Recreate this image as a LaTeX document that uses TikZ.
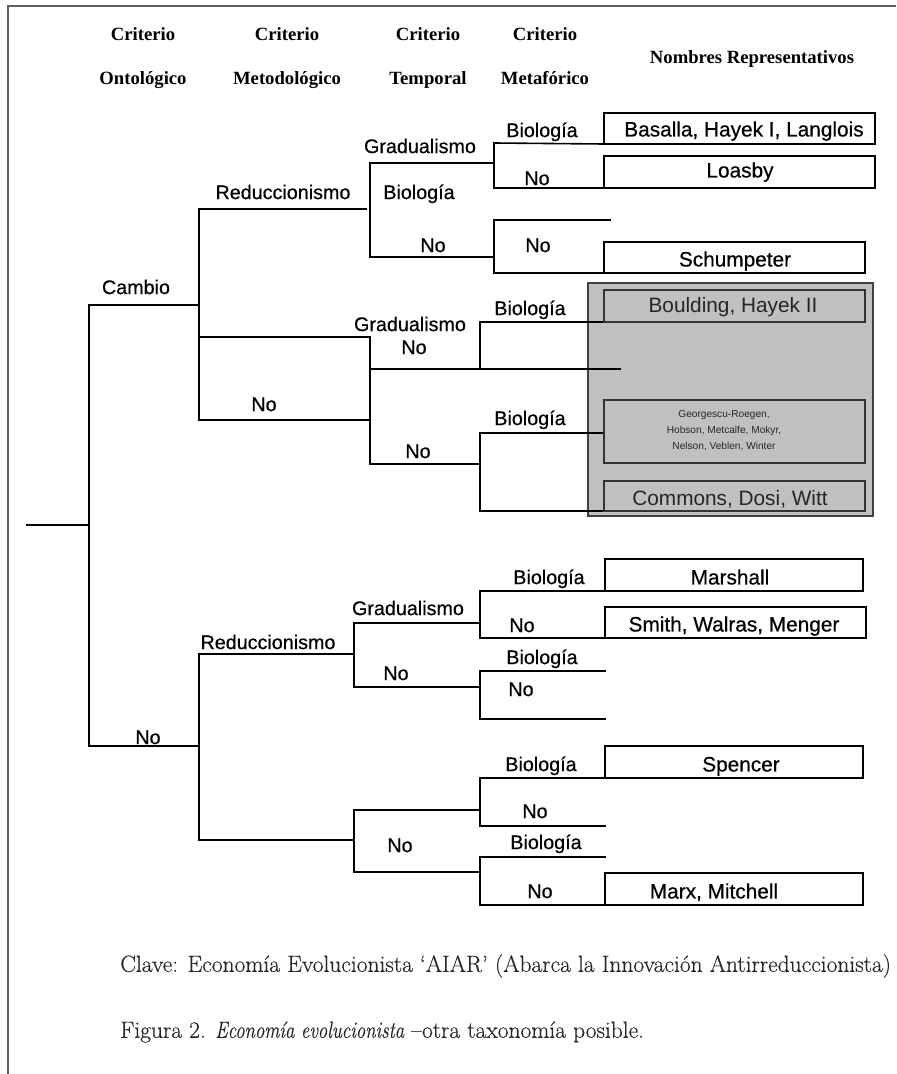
\documentclass[tikz,border=0pt]{standalone}
\usepackage{fontspec}
\newfontfamily\lsans[FakeBold=0.5]{Liberation Sans}
\newfontfamily\lsanslight{Liberation Sans}
\newfontfamily\lserif{Liberation Serif}
\newfontfamily\footfont[FakeBold=0.3]{Latin Modern Roman}
\definecolor{graybg}{HTML}{C0C0C0}
\definecolor{framegray}{HTML}{606060}
\tikzset{
  tree/.style={line width=1.2pt, black, line cap=rect},
  lab/.style={font=\lsans\fontsize{14.8}{16}\selectfont, inner sep=0pt, text height=10.6pt, text depth=0pt},
  nametext/.style={font=\lsans\fontsize{15.6}{18}\selectfont, inner sep=0pt, text height=11.2pt, text depth=0pt},
  smalltext/.style={font=\lsanslight\fontsize{7.6}{12}\selectfont, inner sep=0pt, align=center, text=black!85},
  graytext/.style={font=\lsanslight\fontsize{15.6}{18}\selectfont, inner sep=0pt, text height=11.2pt, text depth=0pt, text=black!85},
  head/.style={font=\lserif\bfseries\fontsize{14}{16}\selectfont, inner sep=0pt, text height=9.3pt, text depth=0pt},
  foot/.style={font=\footfont\fontsize{17.6}{20}\selectfont, inner sep=0pt, text=black!85, anchor=west},
  namebox/.style={draw=black, line width=1.3pt, fill=white, inner sep=0pt, outer sep=0pt},
  outergray/.style={draw=black!75, line width=0.9pt, fill=graybg, inner sep=0pt, outer sep=0pt},
  innergray/.style={draw=black!80, line width=0.9pt, fill=graybg, inner sep=0pt, outer sep=0pt},
  framestyle/.style={draw=framegray, line width=1.1pt}
}
\newcommand\mkbox[6]{%
  \pgfmathsetmacro\mkbw{(#5-#3)*0.75}%
  \pgfmathsetmacro\mkbh{(#6-#4)*0.75}%
  \node[#1, minimum width=\mkbw pt, minimum height=\mkbh pt] (#2) at ({(#3+#5)/2},{(#4+#6)/2}) {};}
\begin{document}
\begin{tikzpicture}[x=0.75pt, y=-0.75pt]
\useasboundingbox (0,0) rectangle (896,1074);
% frame
\coordinate (fr0) at (8,1074);
\coordinate (fr1) at (8,6);
\coordinate (fr2) at (896,6);
\draw[framestyle] (fr0) -- (fr1) -- (fr2);

% header
\node[head] (h1a) at (143,34) {Criterio};
\node[head] (h1b) at (143,78) {Ontológico};
\node[head] (h2a) at (287,34) {Criterio};
\node[head] (h2b) at (287,78) {Metodológico};
\node[head] (h3a) at (428,34) {Criterio};
\node[head] (h3b) at (428,78) {Temporal};
\node[head] (h4a) at (545,34) {Criterio};
\node[head] (h4b) at (545,78) {Metafórico};
\node[head] (h5) at (752,57) {Nombres Representativos};

% gray box (drawn first)
\mkbox{outergray}{grayzone}{588}{283}{873}{516}

% coordinates
\coordinate (r0) at (27,525);
\coordinate (r1) at (89,525);
\coordinate (c0) at (89,305);
\coordinate (c1) at (199,305);
\coordinate (n0) at (89,746);
\coordinate (n1) at (199,746);
% upper
\coordinate (m1t) at (199,209);
\coordinate (m1b) at (199,420);
\coordinate (red1e) at (366,209);
\coordinate (t1t) at (370,163);
\coordinate (t1b) at (370,257);
\coordinate (t1g) at (494,163);
\coordinate (f1t) at (494,143);
\coordinate (f1b) at (494,188);
\coordinate (t1n) at (494,257);
\coordinate (f2t) at (494,220);
\coordinate (f2b) at (494,273);
\coordinate (f2te) at (610,220);
\coordinate (f2be) at (620,273);
% middle
\coordinate (m2a) at (199,337);
\coordinate (t2a) at (370,337);
\coordinate (t2m) at (370,420);
\coordinate (t2b) at (370,464);
\coordinate (t2g) at (370,369);
\coordinate (t2ge) at (620,369);
\coordinate (f3t) at (480,322);
\coordinate (f3b) at (480,369);
\coordinate (f4j) at (480,464);
\coordinate (f4t) at (480,433);
\coordinate (f4b) at (480,511);
% lower
\coordinate (m3t) at (199,654);
\coordinate (m3b) at (199,840);
\coordinate (t3t) at (354,623);
\coordinate (t3m) at (354,654);
\coordinate (t3b) at (354,687);
\coordinate (g3) at (480,623);
\coordinate (f5t) at (480,591);
\coordinate (f5b) at (480,638);
\coordinate (n3) at (480,687);
\coordinate (f6t) at (480,671);
\coordinate (f6b) at (480,719);
\coordinate (f6te) at (605,671);
\coordinate (f6be) at (605,719);
\coordinate (t4m) at (354,840);
\coordinate (t4t) at (354,810);
\coordinate (t4b) at (354,872);
\coordinate (f7j) at (480,810);
\coordinate (f7t) at (480,778);
\coordinate (f7b) at (480,826);
\coordinate (f7be) at (605,826);
\coordinate (f8j) at (480,872);
\coordinate (f8t) at (480,857);
\coordinate (f8b) at (480,905);
\coordinate (f8te) at (605,857);

% boxes (positions)
\mkbox{namebox}{basalla}{604}{113}{875}{144}
\mkbox{namebox}{loasby}{604}{156}{875}{188}
\mkbox{namebox}{schumpeter}{604}{242}{865}{273}
\mkbox{innergray}{boulding}{604}{290}{865}{322}
\mkbox{innergray}{georgescu}{604}{400}{865}{463}
\mkbox{innergray}{commons}{604}{481}{865}{511}
\mkbox{namebox}{marshall}{605}{559}{863}{591}
\mkbox{namebox}{smith}{605}{607}{866}{638}
\mkbox{namebox}{spencer}{605}{746}{863}{778}
\mkbox{namebox}{marx}{605}{873}{863}{905}

% tree lines
\draw[tree] (r0) -- (r1);
\draw[tree] (c0) -- (n0);
\draw[tree] (c0) -- (c1);
\draw[tree] (n0) -- (n1);
\draw[tree] (m1t) -- (m1b);
\draw[tree] (m1t) -- (red1e);
\draw[tree] (t1t) -- (t1b);
\draw[tree] (t1t) -- (t1g);
\draw[tree] (f1t) -- (f1b);
\draw[tree] (f1t) -- (basalla.south west);
\draw[tree] (f1b) -- (loasby.south west);
\draw[tree] (t1b) -- (t1n);
\draw[tree] (f2t) -- (f2b);
\draw[tree] (f2t) -- (f2te);
\draw[tree] (f2b) -- (f2be);
\draw[tree] (m2a) -- (t2a);
\draw[tree] (m1b) -- (t2m);
\draw[tree] (t2a) -- (t2b);
\draw[tree] (t2g) -- (t2ge);
\draw[tree] (f3t) -- (f3b);
\draw[tree] (f3t) -- (boulding.south west);
\draw[tree] (t2b) -- (f4j);
\draw[tree] (f4t) -- (f4b);
\draw[tree] (f4t) -- (f4t -| georgescu.west);
\draw[tree] (f4b) -- (commons.south west);
\draw[tree] (m3t) -- (m3b);
\draw[tree] (m3t) -- (t3m);
\draw[tree] (t3t) -- (t3b);
\draw[tree] (t3t) -- (g3);
\draw[tree] (f5t) -- (f5b);
\draw[tree] (f5t) -- (marshall.south west);
\draw[tree] (f5b) -- (smith.south west);
\draw[tree] (t3b) -- (n3);
\draw[tree] (f6t) -- (f6b);
\draw[tree] (f6t) -- (f6te);
\draw[tree] (f6b) -- (f6be);
\draw[tree] (m3b) -- (t4m);
\draw[tree] (t4t) -- (t4b);
\draw[tree] (t4t) -- (f7j);
\draw[tree] (f7t) -- (f7b);
\draw[tree] (f7t) -- (spencer.south west);
\draw[tree] (f7b) -- (f7be);
\draw[tree] (t4b) -- (f8j);
\draw[tree] (f8t) -- (f8b);
\draw[tree] (f8t) -- (f8te);
\draw[tree] (f8b) -- (marx.south west);

% redraw box borders over lines
\mkbox{namebox}{basallaB}{604}{113}{875}{144}
\mkbox{namebox}{loasbyB}{604}{156}{875}{188}
\mkbox{namebox}{schumpeterB}{604}{242}{865}{273}
\mkbox{innergray}{bouldingB}{604}{290}{865}{322}
\mkbox{innergray}{georgescuB}{604}{400}{865}{463}
\mkbox{innergray}{commonsB}{604}{481}{865}{511}
\mkbox{namebox}{marshallB}{605}{559}{863}{591}
\mkbox{namebox}{smithB}{605}{607}{866}{638}
\mkbox{namebox}{spencerB}{605}{746}{863}{778}
\mkbox{namebox}{marxB}{605}{873}{863}{905}

% box texts
\node[nametext] (tbasalla) at (744,129) {Basalla, Hayek I, Langlois};
\node[nametext] (tloasby) at (740,170) {Loasby};
\node[nametext] (tschumpeter) at (735,259) {Schumpeter};
\node[graytext] (tboulding) at (733,305) {Boulding, Hayek II};
\node[smalltext] (tgeorgescu) at (724,431) {Georgescu-Roegen,\\Hobson, Metcalfe, Mokyr,\\Nelson, Veblen, Winter};
\node[graytext] (tcommons) at (730,498) {Commons, Dosi, Witt};
\node[nametext] (tmarshall) at (730,577) {Marshall};
\node[nametext] (tsmith) at (734,624) {Smith, Walras, Menger};
\node[nametext] (tspencer) at (741,764) {Spencer};
\node[nametext] (tmarx) at (714,891) {Marx, Mitchell};

% labels
\node[lab] (lcambio) at (136,287) {Cambio};
\node[lab] (lred1) at (283,192) {Reduccionismo};
\node[lab] (lgrad1) at (420,146) {Gradualismo};
\node[lab] (lbio1) at (419,192) {Biología};
\node[lab] (lno1) at (433,245) {No};
\node[lab] (lbio2) at (542,130) {Biología};
\node[lab] (lno2) at (537,178) {No};
\node[lab] (lno3) at (538,245) {No};
\node[lab] (lgrad2) at (410,324) {Gradualismo};
\node[lab] (lno4) at (414,347) {No};
\node[lab] (lbio3) at (530,308) {Biología};
\node[lab] (lno5) at (264,404) {No};
\node[lab] (lbio4) at (530,418) {Biología};
\node[lab] (lno6) at (418,451) {No};
\node[lab] (lnoroot) at (148,737) {No};
\node[lab] (lred2) at (268,642) {Reduccionismo};
\node[lab] (lgrad3) at (408,608) {Gradualismo};
\node[lab] (lno7) at (396,673) {No};
\node[lab] (lbio5) at (549,577) {Biología};
\node[lab] (lno8) at (522,625) {No};
\node[lab] (lbio6) at (542,657) {Biología};
\node[lab] (lno9) at (521,689) {No};
\node[lab] (lbio7) at (541,764) {Biología};
\node[lab] (lno10) at (535,811) {No};
\node[lab] (lno11) at (400,845) {No};
\node[lab] (lbio8) at (546,842) {Biología};
\node[lab] (lno12) at (540,891) {No};

% footer
\node[foot] (clave) at (120,966) {Clave: Economía Evolucionista ‘AIAR’ (Abarca la Innovación Antirreduccionista)};
\node[foot] (figura) at (120,1032) {Figura 2. \scalebox{0.8}[1]{\itshape Economía evolucionista} –otra taxonomía posible.};
\end{tikzpicture}
\end{document}
